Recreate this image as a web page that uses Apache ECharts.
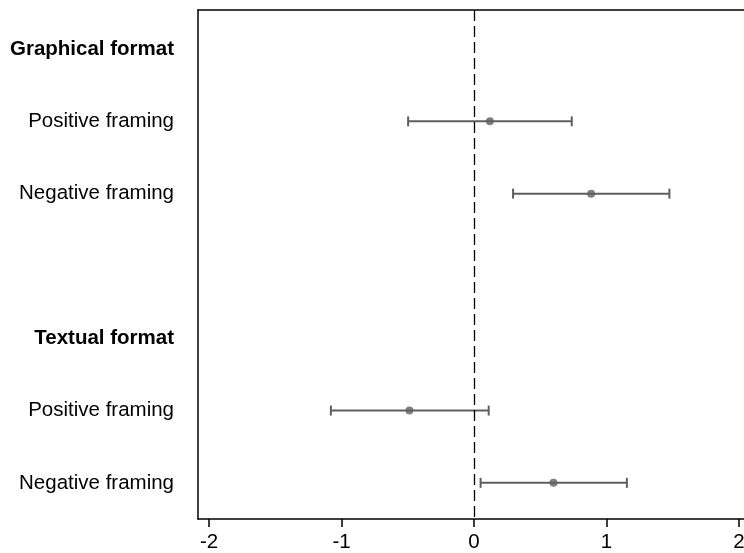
<!DOCTYPE html>
<html>
<head>
<meta charset="utf-8">
<script src="https://cdn.jsdelivr.net/npm/echarts@6/dist/echarts.min.js"></script>
<style>
html,body{margin:0;padding:0;background:#fff;}
#chart{width:744px;height:553px;}
</style>
</head>
<body>
<div id="chart"></div>
<script>
// Row labels (top to bottom, row index = position)
var categories = ['Graphical format', 'Positive framing', 'Negative framing', '', 'Textual format', 'Positive framing', 'Negative framing'];
var labelRows = [0, 1, 2, 4, 5, 6];
var headerRows = [0, 4];
// Point estimates and confidence bounds per row (null = no mark)
var estimates = [null, 0.12, 0.884, null, null, -0.487, 0.60];
var lowerCI   = [null, -0.497, 0.295, null, null, -1.08, 0.05];
var upperCI   = [null, 0.738, 1.475, null, null, 0.111, 1.154];
// X tick labels
var xTicks = [-2, -1, 0, 1, 2];

var FONT = "'Liberation Sans', Arial, Helvetica, sans-serif";
var MARK = '#5f5f5f';
var FS = 20.5;

var pointData = [];
var barData = [];
for (var i = 0; i < categories.length; i++) {
  if (estimates[i] !== null) pointData.push([estimates[i], i]);
  if (lowerCI[i] !== null) barData.push([lowerCI[i], upperCI[i], i]);
}

var chart = echarts.init(document.getElementById('chart'), null, {renderer: 'canvas'});
chart.setOption({
  animation: false,
  backgroundColor: '#fff',
  grid: {left: 198, top: 10, right: 0, bottom: 34, show: false, containLabel: false, outerBoundsMode: 'none'},
  xAxis: [
    {
      type: 'value',
      position: 'bottom',
      min: -2.083, max: 2.038,
      splitLine: {show: false},
      axisLine: {show: true, onZero: false, lineStyle: {color: '#000', width: 1.5}},
      axisTick: {show: true, customValues: xTicks, length: 8, lineStyle: {color: '#000', width: 1.5}},
      axisLabel: {customValues: xTicks, margin: 13, fontSize: FS, color: '#000', fontFamily: FONT, hideOverlap: false}
    },
    {
      type: 'value',
      position: 'top',
      min: -2.083, max: 2.038,
      splitLine: {show: false},
      axisLine: {show: true, onZero: false, lineStyle: {color: '#000', width: 1.5}},
      axisTick: {show: false},
      axisLabel: {show: false}
    }
  ],
  yAxis: {
    type: 'value',
    inverse: true,
    min: -0.54, max: 6.5,
    splitLine: {show: false},
    axisLine: {show: true, onZero: false, lineStyle: {color: '#000', width: 1.5}},
    axisTick: {show: false},
    axisLabel: {
      customValues: labelRows,
      margin: 24, fontSize: FS, color: '#000', fontFamily: FONT,
      formatter: function (v) {
        var t = categories[v];
        return headerRows.indexOf(v) >= 0 ? '{b|' + t + '}' : t;
      },
      rich: {b: {fontWeight: 'bold', fontSize: FS, color: '#000', fontFamily: FONT}}
    }
  },
  series: [
    {
      type: 'custom',
      data: barData,
      encode: {x: [0, 1], y: 2},
      renderItem: function (params, api) {
        var y = api.value(2);
        var p1 = api.coord([api.value(0), y]);
        var p2 = api.coord([api.value(1), y]);
        var h = 5;
        var st = {stroke: MARK, lineWidth: 2, fill: null};
        return {
          type: 'group',
          children: [
            {type: 'line', shape: {x1: p1[0], y1: p1[1], x2: p2[0], y2: p2[1]}, style: st},
            {type: 'line', shape: {x1: p1[0], y1: p1[1] - h, x2: p1[0], y2: p1[1] + h}, style: st},
            {type: 'line', shape: {x1: p2[0], y1: p2[1] - h, x2: p2[0], y2: p2[1] + h}, style: st}
          ]
        };
      },
      z: 2
    },
    {
      type: 'scatter',
      data: pointData,
      symbol: 'circle',
      symbolSize: 8,
      itemStyle: {color: MARK},
      z: 3,
      markLine: {
        silent: true,
        symbol: ['none', 'none'],
        label: {show: false},
        lineStyle: {color: '#000', type: [11, 5], width: 1.3},
        data: [{xAxis: 0}]
      }
    }
  ]
});
</script>
</body>
</html>
